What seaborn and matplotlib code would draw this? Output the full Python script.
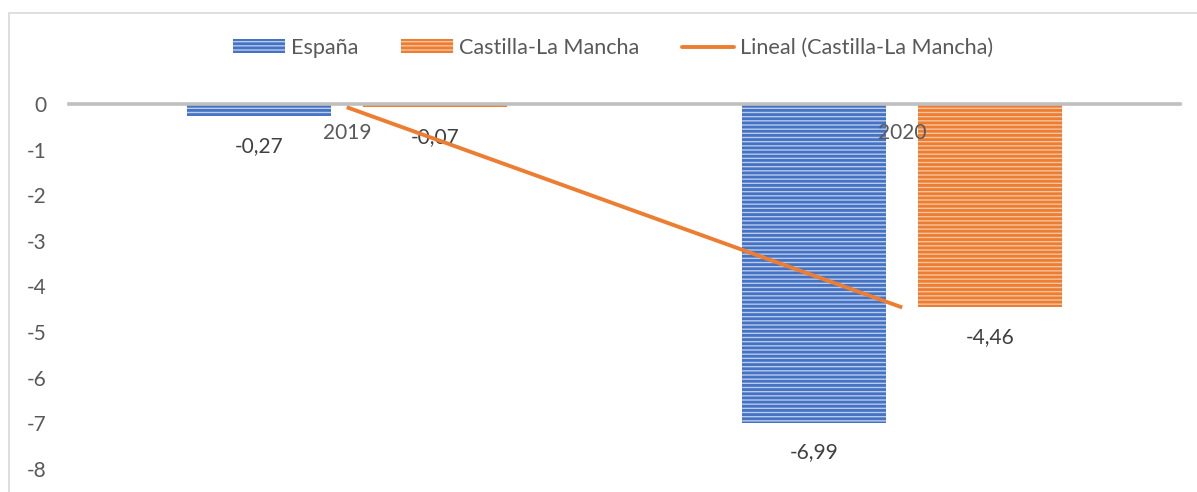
import numpy as np
import pandas as pd
import matplotlib
matplotlib.use("Agg")
import matplotlib.pyplot as plt
from matplotlib.patches import Patch, Rectangle
from matplotlib.lines import Line2D
import seaborn as sns

# data
years = ["2019", "2020"]
espana = [-0.27, -6.99]
clm = [-0.07, -4.46]
series_names = ["España", "Castilla-La Mancha"]
trend_name = "Lineal (Castilla-La Mancha)"
yticks = [0, -1, -2, -3, -4, -5, -6, -7, -8]

dark = ["#4472C4", "#ED7D31"]
light = ["#b9cbeb", "#f7c4a0"]
text_grey = "#595959"
fs = 15

df = pd.DataFrame({
    "year": years * 2,
    "region": [series_names[0]] * len(years) + [series_names[1]] * len(years),
    "value": espana + clm,
})

sns.set_style("white")
plt.rcParams["font.family"] = ["Lato", "DejaVu Sans"]
plt.rcParams["axes.unicode_minus"] = False
plt.rcParams["hatch.linewidth"] = 2.0

fig = plt.figure(figsize=(11.97, 4.92), dpi=100)
ax = fig.add_axes([69 / 1197, 1 - 469 / 492, (1180 - 69) / 1197, (469 - 104) / 492])

sns.barplot(data=df, x="year", y="value", hue="region", order=years,
            hue_order=series_names, palette=dark, width=0.634, gap=0.18,
            legend=False, ax=ax)

# Excel style striped fill
for cont, d, l in zip(ax.containers, dark, light):
    for bar in cont:
        bar.set_facecolor(l)
        bar.set_edgecolor(d)
        bar.set_linewidth(0)
        bar.set_hatch("----")
        bar.set_zorder(1)
    ax.bar_label(cont, labels=[f"{v:.2f}".replace(".", ",") for v in cont.datavalues],
                 padding=14, fontsize=fs, color="#404040")

# linear trend of Castilla-La Mancha
xs = np.arange(len(years))
coef = np.polyfit(xs, clm, 1)
ax.plot(xs, np.polyval(coef, xs), color=dark[1], lw=2.8, zorder=4,
        solid_capstyle="butt")

ax.set_ylim(-8, 0)
ax.set_yticks(yticks)
ax.set_yticklabels([str(t) for t in yticks])
ax.set_xlim(-0.5, len(years) - 0.5)
ax.set_xlabel("")
ax.set_ylabel("")
ax.set_axisbelow(False)
ax.tick_params(axis="both", length=0, labelsize=fs, labelcolor=text_grey)
ax.tick_params(axis="y", pad=16)
ax.tick_params(axis="x", pad=14)

for s in ["left", "right", "top"]:
    ax.spines[s].set_visible(False)
ax.spines["bottom"].set_position(("data", 0))
ax.spines["bottom"].set_color("#bfbfbf")
ax.spines["bottom"].set_linewidth(2.6)

handles = [
    Patch(facecolor=light[0], edgecolor=dark[0], linewidth=0, hatch="----"),
    Patch(facecolor=light[1], edgecolor=dark[1], linewidth=0, hatch="----"),
    Line2D([], [], color=dark[1], lw=2.8),
]
fig.legend(handles, series_names + [trend_name], loc="center",
           bbox_to_anchor=(613 / 1197, 1 - 48 / 492), ncol=3, frameon=False,
           fontsize=15.6, labelcolor=text_grey, handlelength=2.4,
           handleheight=0.6, handletextpad=0.3, columnspacing=1.95)

# chart area border
fig.patches.append(Rectangle((9 / 1197, -0.05), 1.1, 1 - 13 / 492 + 0.05,
                             transform=fig.transFigure, fill=False,
                             edgecolor="#d9d9d9", linewidth=1.2))

fig.savefig("out.png", dpi=100)
